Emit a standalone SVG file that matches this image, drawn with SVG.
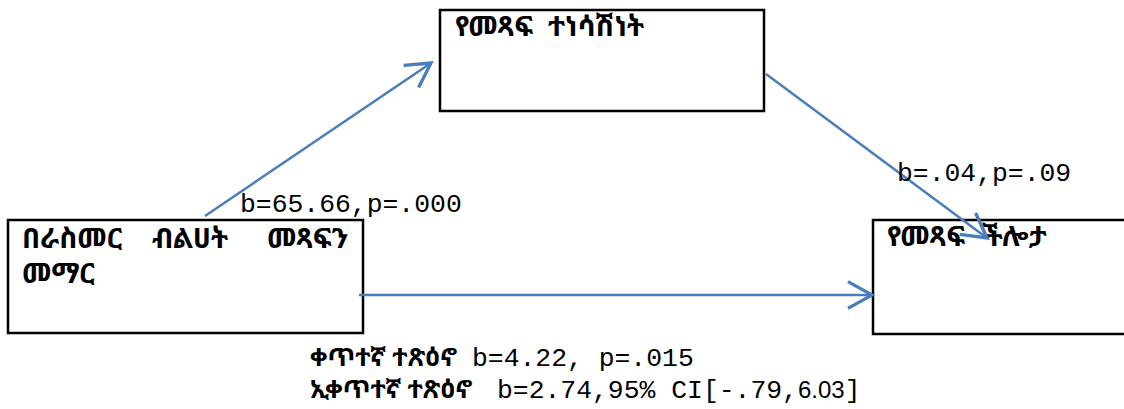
<svg xmlns="http://www.w3.org/2000/svg" width="1124" height="409" viewBox="0 0 1124 409">
<style>
.box{fill:#fff;stroke:#000;stroke-width:2.5}
.am{font-family:'Noto Sans Ethiopic','Noto Serif Ethiopic','Abyssinica SIL',Nyala,'DejaVu Sans','Noto Sans',sans-serif;font-size:28px;font-weight:bold;fill:#000}
.am2{font-family:'Noto Sans Ethiopic','Noto Serif Ethiopic','Abyssinica SIL',Nyala,'DejaVu Sans','Noto Sans',sans-serif;font-size:25px;font-weight:bold;fill:#000}
.mono{font-family:'Liberation Mono','Courier New',monospace;font-size:26.4px;fill:#000}
.prop{font-family:'Liberation Sans','Open Sans',sans-serif;font-size:24px;fill:#000}
.conn{stroke:#4a7ebb;stroke-width:2.5;fill:none}
</style>
<defs>
<marker id="ah" markerUnits="userSpaceOnUse" orient="auto" refX="0" refY="0" markerWidth="40" markerHeight="40" viewBox="-25 -15 30 30" overflow="visible">
<path d="M-18,-10 L0,0 L-18,10" fill="none" stroke="#4a7ebb" stroke-width="2.5"/>
</marker>
</defs>
<rect x="0" y="0" width="1124" height="409" fill="#fff"/>
<g id="node-motivation">
<rect class="box" x="440" y="10" width="324" height="101"/>
<text class="am" x="455" y="36">የመጻፍ</text>
<text class="am" x="548" y="36">ተነሳሽነት</text>
</g>
<g id="node-selfregulated">
<rect class="box" x="8" y="220" width="355" height="113"/>
<text class="am" x="22" y="248">በራስመር</text>
<text class="am" x="152" y="248">ብልሀት</text>
<text class="am" x="267" y="248">መጻፍን</text>
<text class="am" x="22" y="283">መማር</text>
</g>
<g id="node-skill">
<rect class="box" x="873" y="220" width="262" height="114"/>
<text class="am" x="887" y="246">የመጻፍ</text>
<text class="am" x="982" y="246">ችሎታ</text>
</g>
<g id="connectors">
<line class="conn" x1="205" y1="216" x2="431" y2="63" marker-end="url(#ah)"/>
<line class="conn" x1="766" y1="74" x2="987" y2="238" marker-end="url(#ah)"/>
<line class="conn" x1="359" y1="295" x2="872" y2="295" marker-end="url(#ah)"/>
</g>
<g id="labels">
<text x="310" y="366"><tspan class="am2">ቀጥተኛ ተጽዕኖ</tspan><tspan class="mono" x="472">b=4.22, p=.015</tspan></text>
<text x="310" y="398"><tspan class="am2">ኢቀጥተኛ ተጽዕኖ</tspan><tspan class="mono" x="497">b=2.74,95% CI[-.79,</tspan><tspan class="prop">6.03</tspan><tspan class="mono">]</tspan></text>
<text class="mono" x="240" y="212">b=65.66,p=.000</text>
<text class="mono" x="897" y="181">b=.04,p=.09</text>
</g>
</svg>
